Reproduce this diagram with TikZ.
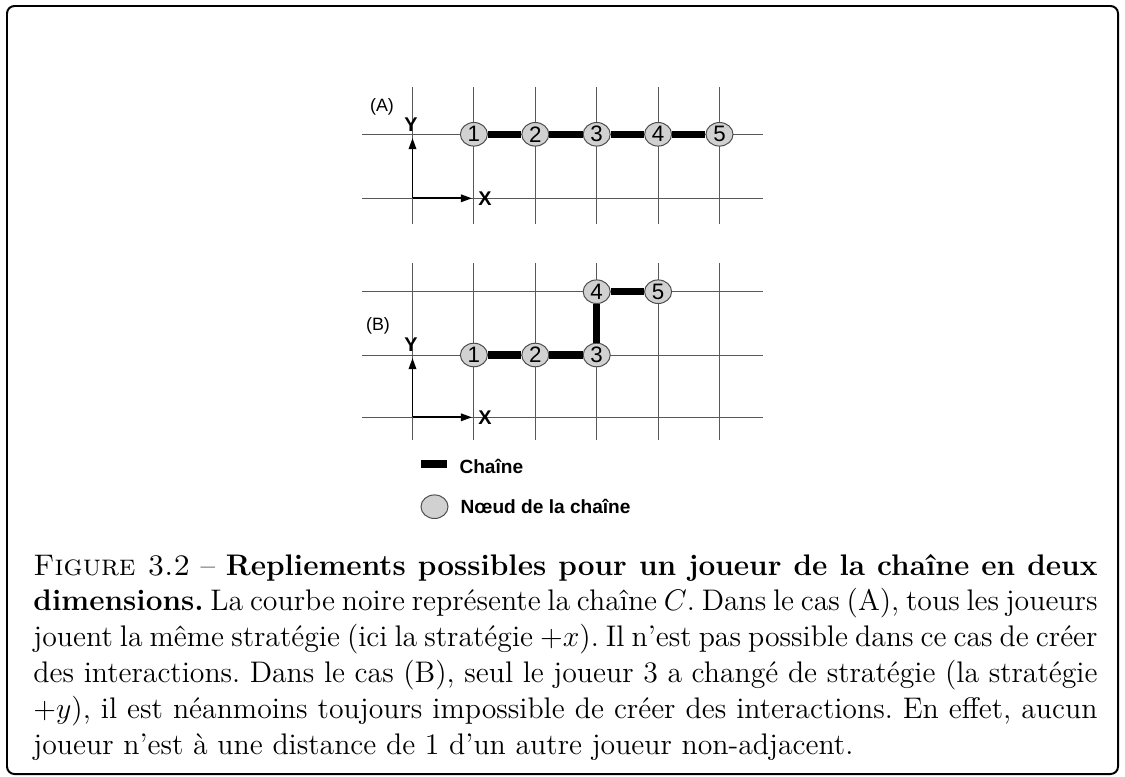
\documentclass[tikz,border=0pt]{standalone}
\usepackage{fontspec}
\newfontfamily\arial{Liberation Sans}
\usetikzlibrary{arrows.meta, shapes.geometric, positioning}

\begin{document}
\begin{tikzpicture}[x=0.403pt, y=-0.403pt, >={Triangle[length=4.5pt,width=3pt]},
    gridline/.style={black!65, line width=0.4pt},
    joueur/.style={ellipse, draw=black!70, fill=black!18, line width=0.4pt,
      minimum width=10.9pt, minimum height=9.5pt, inner sep=0pt,
      font=\arial\fontsize{9}{9}\selectfont},
    lien/.style={line width=3pt},
    axe/.style={->, line width=0.8pt},
    axelab/.style={font=\arial\bfseries\fontsize{8}{8}\selectfont, inner sep=0pt},
    cas/.style={font=\arial\fontsize{7.2}{7.2}\selectfont, inner sep=0pt},
    legende/.style={font=\arial\bfseries\fontsize{7.7}{8}\selectfont, inner sep=0pt}]
  \useasboundingbox (0,0) rectangle (1125,776);
  \draw[line width=0.8pt, rounded corners=3pt] (7,6) rectangle (1118,774);

  % cas (A)
  \foreach \x in {412.5,473.9,535.3,596.7,658.1,719.5}
    \draw[gridline] (\x,87) -- (\x,224);
  \foreach \y in {134.3,198.3}
    \draw[gridline] (362,\y) -- (763,\y);
  \node[cas] (labA) at (382,107) {(A)};
  \coordinate (oA) at (412.5,198.3);
  \coordinate (yA) at (412.5,138);
  \coordinate (xA) at (472,198.3);
  \draw[axe] (oA) -- (yA);
  \draw[axe] (oA) -- (xA);
  \node[axelab] (YA) at (411,124.5) {Y};
  \node[axelab] (XA) at (485,198.5) {X};
  \node[joueur] (a1) at (473.9,134.3) {1};
  \node[joueur] (a2) at (535.3,134.3) {2};
  \node[joueur] (a3) at (596.7,134.3) {3};
  \node[joueur] (a4) at (658.1,134.3) {4};
  \node[joueur] (a5) at (719.5,134.3) {5};
  \draw[lien] (a1)--(a2); \draw[lien] (a2)--(a3);
  \draw[lien] (a3)--(a4); \draw[lien] (a4)--(a5);

  % cas (B)
  \foreach \x in {412.5,473.9,535.3,596.7,658.1,719.5}
    \draw[gridline] (\x,263) -- (\x,440);
  \foreach \y in {291.7,355,417.3}
    \draw[gridline] (362,\y) -- (763,\y);
  \node[cas] (labB) at (378,326) {(B)};
  \coordinate (oB) at (412.5,417.3);
  \coordinate (yB) at (412.5,358);
  \coordinate (xB) at (472,417.3);
  \draw[axe] (oB) -- (yB);
  \draw[axe] (oB) -- (xB);
  \node[axelab] (YB) at (411,345) {Y};
  \node[axelab] (XB) at (485,417.5) {X};
  \node[joueur] (b1) at (473.9,355) {1};
  \node[joueur] (b2) at (535.3,355) {2};
  \node[joueur] (b3) at (596.7,355) {3};
  \node[joueur] (b4) at (596.7,291.7) {4};
  \node[joueur] (b5) at (658.1,291.7) {5};
  \draw[lien] (b1)--(b2); \draw[lien] (b2)--(b3);
  \draw[lien] (b3)--(b4); \draw[lien] (b4)--(b5);

  % legende
  \draw[lien] (421,464) -- (447,464);
  \node[legende, anchor=west] (legC) at (459,466) {Chaîne};
  \node[joueur] (legN) at (434.5,506.7) {};
  \node[legende, right=4.7pt of legN] (legT) {Nœud de la chaîne};

  \node[anchor=base west, inner sep=0pt] (texte) at (33,575)
    {\parbox[t]{428.8pt}{\fontsize{12}{14.5}\selectfont\frenchspacing\hyphenpenalty=10000\relax
     \textsc{Figure 3.2} -- \textbf{Repliements possibles pour un joueur de la chaîne en deux dimensions.} La courbe noire représente la chaîne $C$. Dans le cas (A), tous les joueurs\linebreak{} jouent la même stratégie (ici la stratégie $+x$). Il n'est pas possible dans ce cas de créer\linebreak{} des interactions. Dans le cas (B), seul le joueur 3 a changé de stratégie (la stratégie\linebreak{} $+y$), il est néanmoins toujours impossible de créer des interactions. En effet, aucun\linebreak{} joueur n'est à une distance de 1 d'un autre joueur non-adjacent.\par}};
\end{tikzpicture}
\end{document}
